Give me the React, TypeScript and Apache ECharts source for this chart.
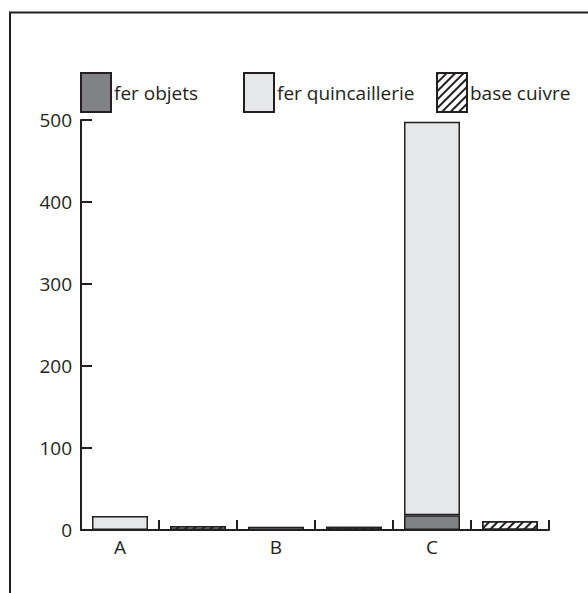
import React, { useEffect, useRef } from "react";
import * as echarts from "echarts";

const categories = ["A", "", "B", "", "C", ""];
const ferObjets: (number | string)[] = ["-", "-", "-", "-", 18, "-"];
const ferQuincaillerie: (number | string)[] = [17, "-", 4, "-", 480, "-"];
const baseCuivre: (number | string)[] = ["-", 5, "-", 4, "-", 11];
const yTicks = { min: 0, max: 500, interval: 100 };

const INK = "#231f20";
const FONT = "Open Sans";

export default function App() {
  const ref = useRef<HTMLDivElement>(null);
  useEffect(() => {
    if (!ref.current) return;
    const chart = echarts.init(ref.current, null, { renderer: "svg" });
    const border = { borderColor: INK, borderWidth: 1.5 };
    const legendBase = {
      top: 72,
      padding: 0,
      itemWidth: 30,
      itemHeight: 39,
      icon: "rect",
      itemGap: 0,
      textStyle: { fontFamily: FONT, fontSize: 19, color: INK, padding: [0, 0, 0, -2] },
    };
    chart.setOption({
      animation: false,
      graphic: [
        {
          type: "rect",
          shape: { x: 10, y: 12.5, width: 900, height: 900 },
          style: { fill: "none", stroke: INK, lineWidth: 2 },
          silent: true,
        },
      ],
      legend: [
        { ...legendBase, left: 80, data: ["fer objets"] },
        { ...legendBase, left: 243, data: ["fer quincaillerie"] },
        { ...legendBase, left: 436, data: ["base cuivre"] },
      ],
      grid: { left: 81, right: 39, top: 120, bottom: 63, containLabel: false },
      xAxis: {
        type: "category",
        data: categories,
        boundaryGap: true,
        axisLine: { lineStyle: { color: INK, width: 2 } },
        axisTick: { show: true, inside: true, length: 10, interval: 0, lineStyle: { color: INK, width: 2 } },
        axisLabel: { interval: 0, fontFamily: FONT, fontSize: 19, color: INK, margin: 7 },
        splitLine: { show: false },
      },
      yAxis: {
        type: "value",
        min: yTicks.min,
        max: yTicks.max,
        interval: yTicks.interval,
        axisLine: { show: true, lineStyle: { color: INK, width: 2 } },
        axisTick: { show: true, inside: true, length: 11, lineStyle: { color: INK, width: 2 } },
        axisLabel: { fontFamily: FONT, fontSize: 19, color: INK, margin: 9 },
        splitLine: { show: false },
      },
      series: [
        {
          name: "fer objets",
          type: "bar",
          stack: "fer",
          barWidth: 56,
          barGap: "-100%",
          data: ferObjets,
          itemStyle: { color: "#808285", ...border },
        },
        {
          name: "fer quincaillerie",
          type: "bar",
          stack: "fer",
          barWidth: 56,
          barGap: "-100%",
          data: ferQuincaillerie,
          itemStyle: { color: "#e6e7e8", ...border },
        },
        {
          name: "base cuivre",
          type: "bar",
          stack: "cu",
          barWidth: 56,
          barGap: "-100%",
          data: baseCuivre,
          itemStyle: {
            color: "#ffffff",
            ...border,
            decal: {
              symbol: "rect",
              symbolSize: 1,
              color: INK,
              backgroundColor: "#ffffff",
              dashArrayX: [1, 0],
              dashArrayY: [1.5, 4],
              rotation: -Math.PI / 4,
            },
          },
        },
      ],
    });
    return () => chart.dispose();
  }, []);
  return (
    <div
      ref={ref}
      style={{ position: "absolute", left: 0, top: 0, width: 588, height: 593 }}
    />
  );
}
